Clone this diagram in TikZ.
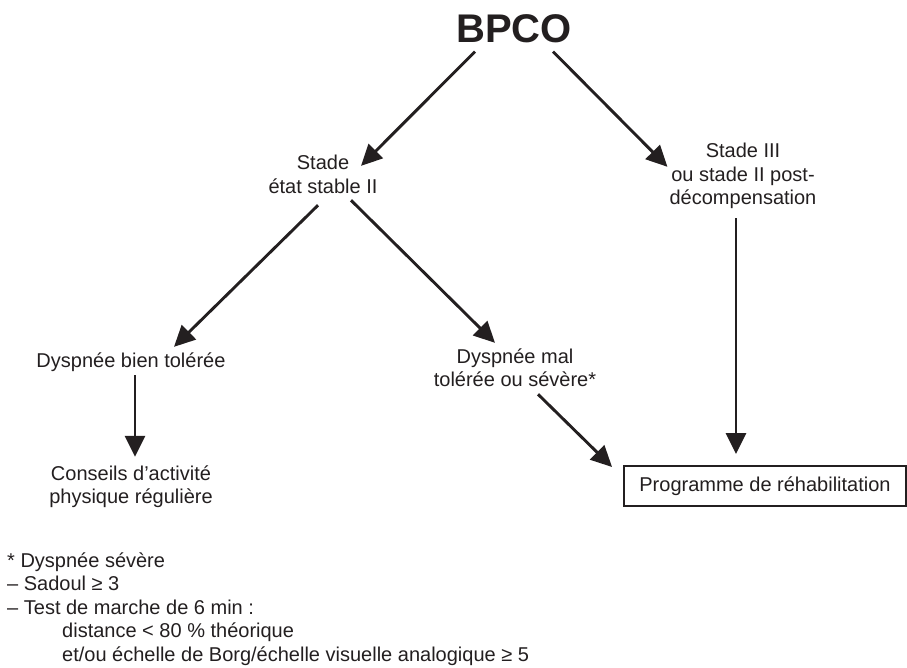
\documentclass[tikz,border=0pt]{standalone}
\usepackage{fontspec}
\setmainfont{Liberation Sans}
\usetikzlibrary{arrows.meta,calc}
\definecolor{ink}{HTML}{231F20}
\newcommand{\mylines}[1]{\begin{tabular}[t]{@{}c@{}}#1\end{tabular}}
\begin{document}
\begin{tikzpicture}[x=1pt,y=-1pt,
  txt/.style={inner sep=0pt,anchor=base,text=ink,font=\fontsize{20}{23.5}\selectfont},
  arr/.style={draw=ink,line width=2.9pt,-{Triangle[length=21pt,width=20pt]}},
  progbox/.style={draw=ink,line width=1.9pt,inner sep=0pt,minimum width=282pt,minimum height=40pt,text=ink,font=\fontsize{20}{23.5}\selectfont}]
\useasboundingbox (0,0) rectangle (907,668);
\node[txt,font=\fontsize{40}{44}\selectfont\bfseries] (bpco) at (514,43) {BPCO};
\node[txt] (stade) at (323,170) {\mylines{Stade\\état stable II}};
\node[txt] (stade3) at (743,158) {\mylines{Stade III\\ou stade II post-\\décompensation}};
\node[txt] (dbien) at (131,367) {\mylines{Dyspnée bien tolérée}};
\node[txt] (dmal) at (515,363) {\mylines{Dyspnée mal\\tolérée ou sévère*}};
\node[txt] (conseils) at (131,480) {\mylines{Conseils d’activité\\physique régulière}};
\node[progbox] (prog) at (765,486) {Programme de réhabilitation};
\node[txt,anchor=base west] (note) at (7,567) {\begin{tabular}[t]{@{}l@{}}
* Dyspnée sévère\\
– Sadoul ≥ 3\\
– Test de marche de 6 min :\\
\hspace*{55pt}distance < 80 \% théorique\\
\hspace*{55pt}et/ou échelle de Borg/échelle visuelle analogique ≥ 5
\end{tabular}};
\draw[arr] ($(bpco.south)+(-39,8)$) -- ($(stade.north)+(38,12.5)$);
\draw[arr] ($(bpco.south)+(39,8)$) -- ($(stade3.west)+(-2,-10)$);
\draw[arr] ($(stade.south)+(-5,4.5)$) -- ($(dbien.north)+(43,-3.5)$);
\draw[arr] ($(stade.south)+(28,-0.5)$) -- ($(dmal.north)+(-20,-3.5)$);
\draw[arr] ($(dbien.south)+(4,1)$) -- ($(conseils.north)+(4,-6.5)$);
\draw[arr] ($(dmal.south)+(23,0.5)$) -- ($(prog.west)+(-11,-19)$);
\draw[arr] ($(stade3.south)+(-7,6)$) -- ($(prog.north)+(-29,-11)$);
\end{tikzpicture}
\end{document}
